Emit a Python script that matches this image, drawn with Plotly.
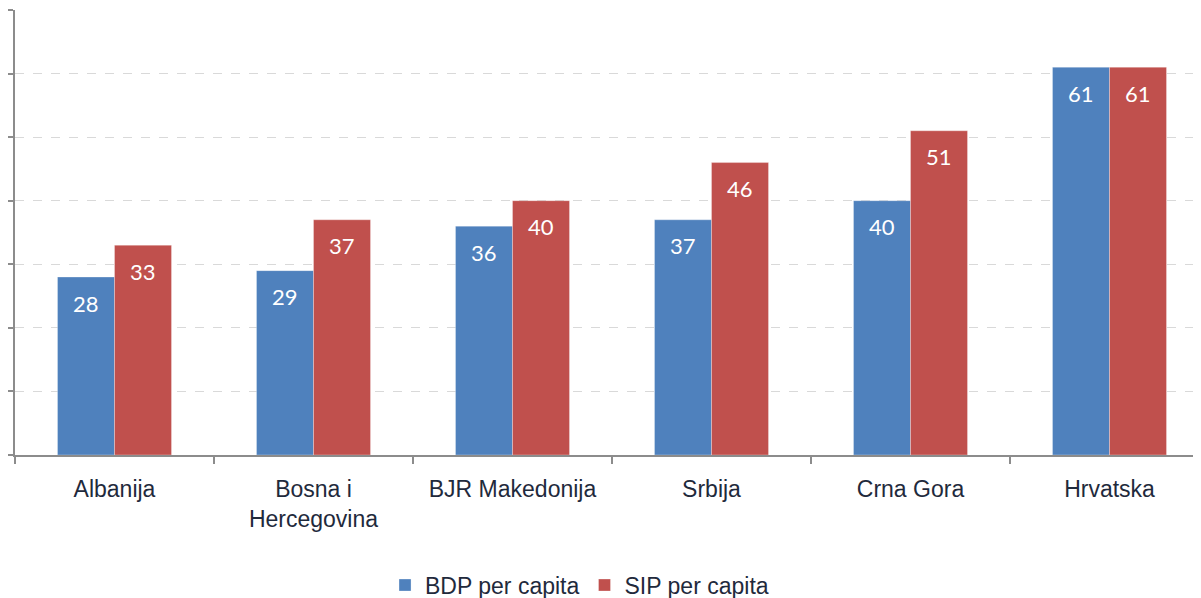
import plotly.graph_objects as go

categories = ["Albanija", "Bosna i<br>Hercegovina", "BJR Makedonija", "Srbija", "Crna Gora", "Hrvatska"]
bdp = [28, 29, 36, 37, 40, 61]
sip = [33, 37, 40, 46, 51, 61]
series_names = ["BDP per capita", "SIP per capita"]
colors = ["#4F81BD", "#C0504D"]

fig = go.Figure()
for name, vals, col in zip(series_names, [bdp, sip], colors):
    fig.add_trace(go.Bar(
        x=categories, y=vals, name=name,
        marker=dict(color=col, line=dict(color="rgba(255,255,255,0.6)", width=0.5)),
        hoverinfo="skip",
    ))

# data labels inside bars near the top
for vals, shift in zip([bdp, sip], [-28.5, 28.5]):
    for c, v in zip(categories, vals):
        fig.add_annotation(
            x=c, y=v, xref="x", yref="y", text=str(v), showarrow=False,
            xshift=shift, yshift=-26, yanchor="middle", xanchor="center",
            font=dict(family="Lato, Open Sans, sans-serif", size=22, color="white"),
        )

fig.update_layout(
    width=1201, height=598,
    margin=dict(l=7, r=0, t=2, b=151),
    plot_bgcolor="white", paper_bgcolor="white",
    barmode="group", bargap=0.427, bargroupgap=0,
    showlegend=True,
    legend=dict(
        orientation="h", x=0.4728, xanchor="center",
        yref="container", y=0.035, yanchor="middle",
        font=dict(family="Liberation Sans, Arial, sans-serif", size=23, color="#1F2A3C"),
        itemwidth=30, traceorder="normal",
    ),
    font=dict(family="Liberation Sans, Arial, sans-serif"),
)

fig.update_xaxes(
    type="category", range=[-0.5, 5.5], automargin=False,
    showline=True, linecolor="#8C8C8C", linewidth=1.5,
    ticks="outside", tickson="boundaries", ticklen=7, tickcolor="#8C8C8C", tickwidth=1.5,
    ticklabelstandoff=13,
    tickfont=dict(family="Liberation Sans, Arial, sans-serif", size=23, color="#1F2A3C"),
    showgrid=False, zeroline=False,
)
fig.update_yaxes(
    range=[0, 70], dtick=10, tick0=0, automargin=False,
    showline=True, linecolor="#8C8C8C", linewidth=1.5,
    ticks="outside", ticklen=7, tickcolor="#8C8C8C", tickwidth=1.5,
    showticklabels=False,
    showgrid=True, gridcolor="#D9D9D9", gridwidth=1, griddash="dash",
    zeroline=False,
)

fig.write_html("out.html")
